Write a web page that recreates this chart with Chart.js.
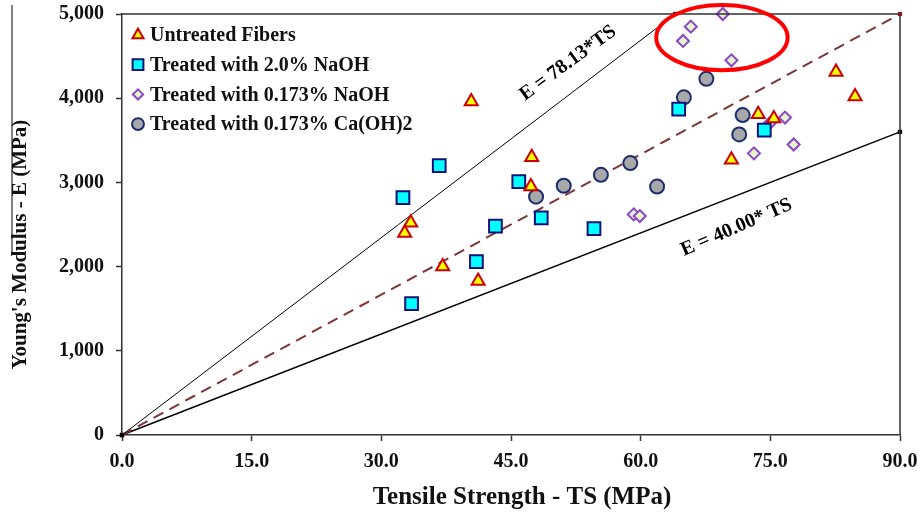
<!DOCTYPE html>
<html>
<head>
<meta charset="utf-8">
<script src="https://cdn.jsdelivr.net/npm/chart.js@4"></script>
<style>
  html, body { margin: 0; padding: 0; background: #fff; }
  #wrap { position: relative; width: 921px; height: 515px; }
</style>
</head>
<body>
<div id="wrap"><canvas id="chart" width="921" height="515"></canvas></div>
<script>
"use strict";

// Axis ticks
const xTicks = [0, 15, 30, 45, 60, 75, 90];
const yTicks = [0, 1000, 2000, 3000, 4000, 5000];

// Series (TS in MPa, E in MPa)
const untreatedTS = [40.4, 47.4, 47.3, 33.4, 32.7, 37.1, 41.2, 82.6, 84.8, 73.6, 75.4, 70.5];
const untreatedE  = [3960, 3300, 2950, 2520, 2400, 2000, 1830, 4310, 4020, 3810, 3760, 3270];

const naoh20TS = [32.5, 36.7, 45.9, 43.2, 41.0, 33.5, 48.5, 54.6, 64.4, 74.3];
const naoh20E  = [2820, 3200, 3010, 2480, 2060, 1560, 2580, 2450, 3870, 3620];

const naoh0173TS = [69.5, 65.8, 64.9, 70.5, 76.7, 74.9, 77.7, 73.1, 59.2, 59.9];
const naoh0173E  = [5000, 4850, 4680, 4450, 3770, 3700, 3450, 3345, 2620, 2600];

const caohTS = [47.9, 51.1, 55.4, 58.8, 61.9, 67.6, 65.0, 71.8, 71.4];
const caohE  = [2830, 2960, 3090, 3230, 2950, 4230, 4010, 3800, 3570];

// Reference lines E = k * TS
const upperSlope = 78.13;
const meanSlope = 5000 / 90;
const lowerSlope = 40.0;

const seriesLabels = [
  "Untreated Fibers",
  "Treated with 2.0% NaOH",
  "Treated with 0.173% NaOH",
  "Treated with 0.173% Ca(OH)2"
];

const xTitle = "Tensile Strength - TS (MPa)";
const yTitle = "Young's Modulus - E (MPa)";

const serif = "'Liberation Serif', 'Times New Roman', serif";

function toPoints(xs, ys) {
  return xs.map((x, i) => ({ x: x, y: ys[i] }));
}

function linePoints(slope, maxX, maxY) {
  const endX = Math.min(maxX, maxY / slope);
  return [{ x: 0, y: 0 }, { x: endX, y: slope * endX }];
}

// Extra drawing: frame, axis titles, highlight ellipse, line labels, legend
const decorPlugin = {
  id: "decor",
  afterDatasetsDraw(chart) {
    const ctx = chart.ctx;
    const a = chart.chartArea;
    const xs = chart.scales.x;
    const ys = chart.scales.y;

    ctx.save();
    // top and right frame
    ctx.strokeStyle = "#333";
    ctx.lineWidth = 1.5;
    ctx.beginPath();
    ctx.moveTo(a.left, a.top);
    ctx.lineTo(a.right, a.top);
    ctx.lineTo(a.right, a.bottom);
    ctx.stroke();

    // stray line at left edge of the figure
    ctx.strokeStyle = "#000";
    ctx.lineWidth = 1;
    ctx.beginPath();
    ctx.moveTo(12, 5);
    ctx.lineTo(12, 255);
    ctx.stroke();

    // axis titles
    ctx.fillStyle = "#111";
    ctx.textAlign = "center";
    ctx.textBaseline = "middle";
    ctx.font = "bold 25px " + serif;
    ctx.fillText(xTitle, (a.left + a.right) / 2 + 11, 498);
    ctx.save();
    ctx.translate(21, (a.top + a.bottom) / 2 + 20);
    ctx.rotate(-Math.PI / 2);
    ctx.font = "bold 21px " + serif;
    ctx.fillText(yTitle, 0, 0);
    ctx.restore();

    // red ellipse round the high points
    const cx = xs.getPixelForValue(69.4);
    const cy = ys.getPixelForValue(4720);
    const rx = xs.getPixelForValue(69.4 + 7.6) - cx;
    const ry = cy - ys.getPixelForValue(4720 + 387);
    ctx.strokeStyle = "#ff0000";
    ctx.lineWidth = 4;
    ctx.beginPath();
    ctx.ellipse(cx, cy, rx, ry, 0, 0, Math.PI * 2);
    ctx.stroke();

    // labels along the bounding lines
    ctx.fillStyle = "#000";
    ctx.font = "bold 20px " + serif;
    const angleOf = (slope) => {
      const dx = xs.getPixelForValue(10) - xs.getPixelForValue(0);
      const dy = ys.getPixelForValue(slope * 10) - ys.getPixelForValue(0);
      return Math.atan2(dy, dx);
    };
    ctx.save();
    ctx.translate(xs.getPixelForValue(51.6), ys.getPixelForValue(4417));
    ctx.rotate(angleOf(upperSlope) + 0.02);
    ctx.fillText("E = 78.13*TS", 0, 0);
    ctx.restore();
    ctx.save();
    ctx.translate(xs.getPixelForValue(71.1), ys.getPixelForValue(2464));
    ctx.rotate(angleOf(lowerSlope) - 0.04);
    ctx.fillText("E = 40.00* TS", 0, 0);
    ctx.restore();

    // legend inside the plot
    ctx.font = "bold 20px " + serif;
    ctx.textAlign = "left";
    for (let i = 0; i < seriesLabels.length; i++) {
      const ds = chart.data.datasets[i];
      const y = a.top + 21 + i * 29.7;
      const x = a.left + 16;
      ctx.fillStyle = ds.backgroundColor;
      ctx.strokeStyle = ds.borderColor;
      ctx.lineWidth = ds.borderWidth;
      Chart.helpers.drawPoint(ctx, {
        pointStyle: ds.pointStyle,
        radius: ds.pointRadius * 0.85,
        rotation: 0,
        borderWidth: ds.borderWidth
      }, x, y);
      ctx.fillStyle = "#111";
      ctx.fillText(seriesLabels[i], x + 12, y + 1);
    }
    ctx.restore();
  }
};

const lineDataset = (pts, color, width, dash, endColor) => ({
  type: "line",
  data: pts,
  borderColor: color,
  borderWidth: width,
  borderDash: dash,
  pointStyle: "rect",
  pointRadius: 3,
  pointBackgroundColor: endColor,
  pointBorderColor: endColor,
  pointBorderWidth: 0,
  fill: false,
  tension: 0
});

const config = {
  type: "scatter",
  data: {
    datasets: [
      {
        label: seriesLabels[0],
        data: toPoints(untreatedTS, untreatedE),
        pointStyle: "triangle",
        pointRadius: 7.5,
        backgroundColor: "#ffff00",
        borderColor: "#cc0000",
        borderWidth: 2
      },
      {
        label: seriesLabels[1],
        data: toPoints(naoh20TS, naoh20E),
        pointStyle: "rect",
        pointRadius: 9,
        backgroundColor: "#00ffff",
        borderColor: "#10107a",
        borderWidth: 2
      },
      {
        label: seriesLabels[2],
        data: toPoints(naoh0173TS, naoh0173E),
        pointStyle: "rectRot",
        pointRadius: 6,
        backgroundColor: "#e6f2c8",
        borderColor: "#8a46c8",
        borderWidth: 2
      },
      {
        label: seriesLabels[3],
        data: toPoints(caohTS, caohE),
        pointStyle: "circle",
        pointRadius: 7,
        backgroundColor: "#a8a8a8",
        borderColor: "#1c2e6e",
        borderWidth: 2
      },
      lineDataset(linePoints(upperSlope, 90, 5000), "#000", 1, [], "#000"),
      lineDataset(linePoints(meanSlope, 90, 5000), "#7e3535", 2, [11, 7], "#b01020"),
      lineDataset(linePoints(lowerSlope, 90, 5000), "#000", 1.5, [], "#000")
    ]
  },
  options: {
    responsive: false,
    animation: false,
    clip: false,
    layout: { padding: { top: 14, right: 21, left: 0, bottom: 0 } },
    plugins: {
      legend: { display: false },
      tooltip: { enabled: false }
    },
    scales: {
      x: {
        type: "linear",
        min: 0,
        max: 90,
        afterBuildTicks: (s) => { s.ticks = xTicks.map(v => ({ value: v })); },
        afterFit: (s) => { s.height = 80; s.paddingLeft = 0; s.paddingRight = 0; },
        border: { display: true, color: "#333", width: 1.5 },
        grid: { drawOnChartArea: false, tickLength: 6, tickColor: "#333", tickWidth: 1.5 },
        ticks: {
          color: "#111",
          padding: 9,
          maxRotation: 0,
          font: { family: serif, size: 20, weight: "bold" },
          callback: (v) => Number(v).toFixed(1)
        }
      },
      y: {
        type: "linear",
        min: 0,
        max: 5000,
        afterBuildTicks: (s) => { s.ticks = yTicks.map(v => ({ value: v })); },
        afterFit: (s) => { s.width = 122; s.paddingTop = 0; s.paddingBottom = 0; },
        border: { display: true, color: "#333", width: 1.5 },
        grid: { drawOnChartArea: false, tickLength: 6, tickColor: "#333", tickWidth: 1.5 },
        ticks: {
          color: "#111",
          padding: 12,
          font: { family: serif, size: 20, weight: "bold" },
          callback: (v) => Number(v).toLocaleString("en-US")
        }
      }
    }
  },
  plugins: [decorPlugin]
};

new Chart(document.getElementById("chart"), config);
</script>
</body>
</html>
